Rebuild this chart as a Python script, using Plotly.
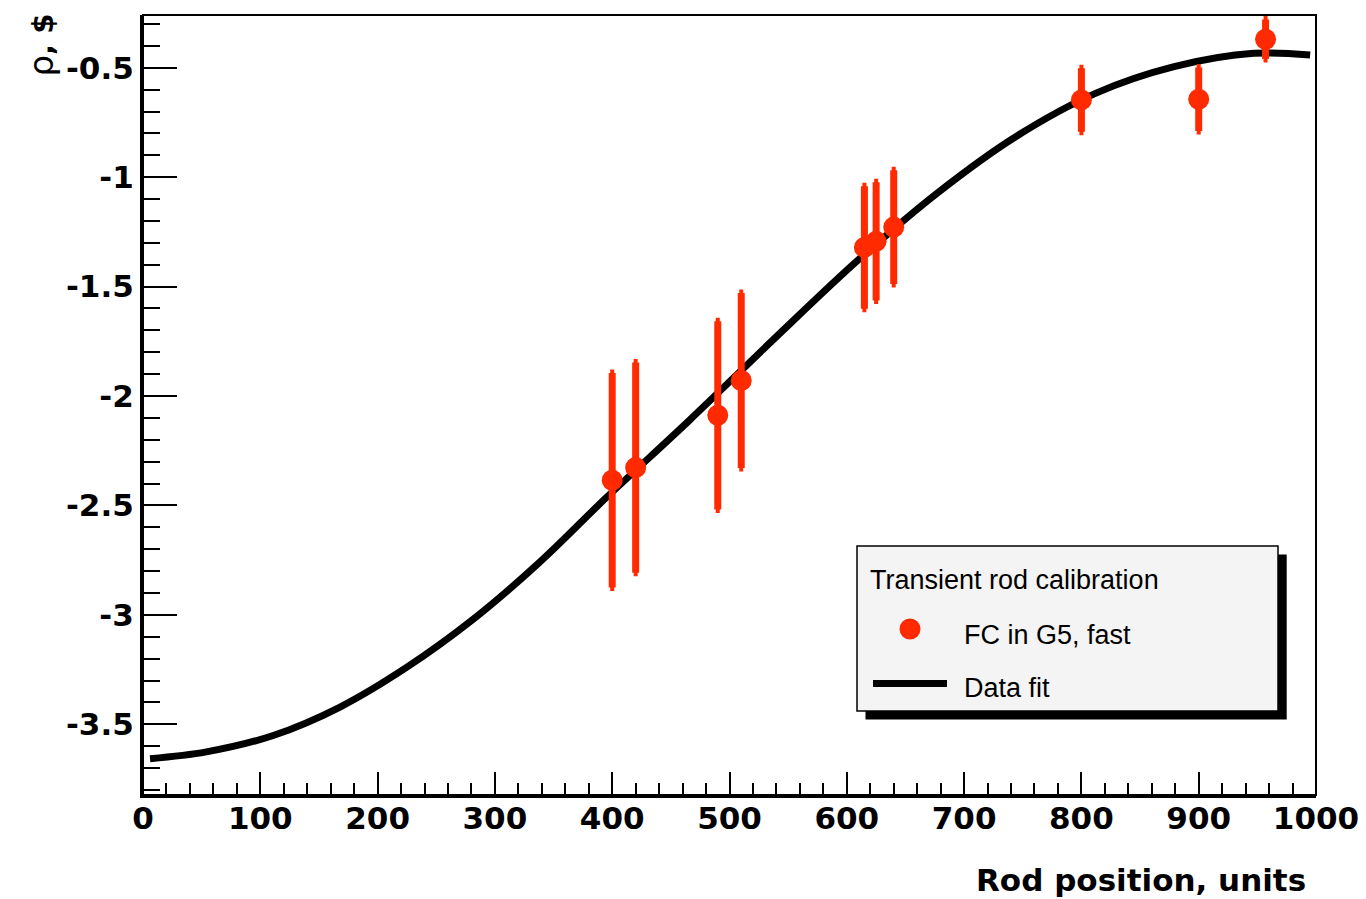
import plotly.graph_objects as go

# measured points, FC in G5 (fast)
rod_pos = [400, 420, 490, 510, 615, 625, 640, 800, 900, 957]
rho = [-2.385, -2.327, -2.088, -1.929, -1.321, -1.293, -1.228, -0.647, -0.644, -0.370]
rho_err = [0.49, 0.48, 0.43, 0.40, 0.28, 0.27, 0.26, 0.145, 0.145, 0.09]

# fit curve
fit_x = [6, 54, 111, 168, 225, 282, 338, 395, 466, 538, 610, 677, 744, 812, 879, 947, 995]
fit_y = [-3.657, -3.626, -3.551, -3.421, -3.239, -3.018, -2.760, -2.464, -2.110, -1.739,
         -1.377, -1.073, -0.815, -0.617, -0.495, -0.434, -0.442]

x_tick_vals = [0, 100, 200, 300, 400, 500, 600, 700, 800, 900, 1000]
x_tick_text = ["0", "100", "200", "300", "400", "500", "600", "700", "800", "900", "1000"]
y_tick_vals = [-3.5, -3, -2.5, -2, -1.5, -1, -0.5]
y_tick_text = ["-3.5", "-3", "-2.5", "-2", "-1.5", "-1", "-0.5"]

RED = "#ff2a00"
PAGE_W, PAGE_H = 1366, 899
BODY = 8                          # default body margin of the html page
L, R, T, B = 143, 1316, 15, 795   # plot frame, page pixels


def px(x):
    return (x - L) / (R - L)


def py(y):
    return (B - y) / (B - T)


fig = go.Figure()
fig.add_trace(go.Scatter(x=fit_x, y=fit_y, mode="lines", name="Data fit",
                         line=dict(color="black", width=7, shape="spline")))
fig.add_trace(go.Scatter(x=rod_pos, y=rho, mode="markers", name="FC in G5, fast",
                         marker=dict(color=RED, size=21),
                         error_y=dict(type="data", array=rho_err, color=RED,
                                      thickness=7, width=2)))

bold = dict(family="DejaVu Sans", size=31, color="black", weight="bold")
fig.update_xaxes(range=[0, 1000], tickmode="array", tickvals=x_tick_vals, ticktext=x_tick_text,
                 ticks="inside", ticklen=23, tickwidth=2, tickcolor="black", ticklabelstandoff=-6,
                 showline=True, linewidth=3, linecolor="black", showgrid=False, zeroline=False,
                 tickfont=bold,
                 minor=dict(tickmode="linear", tick0=0, dtick=20, ticks="inside",
                            ticklen=12, tickwidth=2, tickcolor="black", showgrid=False))
fig.update_yaxes(range=[-3.823, -0.259], tickmode="array", tickvals=y_tick_vals, ticktext=y_tick_text,
                 ticks="inside", ticklen=34, tickwidth=2, tickcolor="black",
                 showline=True, linewidth=3, linecolor="black", showgrid=False, zeroline=False,
                 tickfont=bold,
                 minor=dict(tickmode="linear", tick0=0, dtick=0.1, ticks="inside",
                            ticklen=17, tickwidth=2, tickcolor="black", showgrid=False))

shapes = [
    # frame
    dict(type="rect", xref="paper", yref="paper", x0=0, x1=1, y0=0, y1=1,
         line=dict(color="black", width=2)),
    # legend shadow + box
    dict(type="rect", xref="paper", yref="paper", x0=px(865.5), x1=px(1286.7),
         y0=py(719.5), y1=py(554.5), fillcolor="black", line=dict(width=0)),
    dict(type="rect", xref="paper", yref="paper", x0=px(857), x1=px(1278),
         y0=py(711), y1=py(546), fillcolor="#f4f4f4", line=dict(color="black", width=1.5)),
    dict(type="circle", xref="paper", yref="paper", x0=px(899.5), x1=px(920.5),
         y0=py(639.5), y1=py(618.5), fillcolor=RED, line=dict(width=0)),
    dict(type="line", xref="paper", yref="paper", x0=px(873), x1=px(947),
         y0=py(683.5), y1=py(683.5), line=dict(color="black", width=7)),
]

leg_font = dict(family="Liberation Sans", size=27, color="black")
annotations = [
    dict(text="Transient rod calibration", x=px(868), y=py(580), xref="paper", yref="paper",
         xanchor="left", yanchor="middle", showarrow=False, font=leg_font),
    dict(text="FC in G5, fast", x=px(962), y=py(634.5), xref="paper", yref="paper",
         xanchor="left", yanchor="middle", showarrow=False, font=leg_font),
    dict(text="Data fit", x=px(962), y=py(687.5), xref="paper", yref="paper",
         xanchor="left", yanchor="middle", showarrow=False, font=leg_font),
    dict(text="Rod position, units", x=px(1308), y=py(880), xref="paper", yref="paper",
         xanchor="right", yanchor="middle", showarrow=False, font=bold),
    dict(text='<span style="font-size:34px">ρ</span><b>, $</b>', x=px(40), y=py(12),
         xref="paper", yref="paper", xanchor="center", yanchor="top", textangle=-90,
         showarrow=False, font=dict(family="DejaVu Sans", size=29, color="black")),
]

fig.update_layout(width=PAGE_W - BODY, height=PAGE_H - BODY, showlegend=False,
                  margin=dict(l=L - BODY, r=PAGE_W - R, t=T - BODY, b=PAGE_H - B),
                  paper_bgcolor="white", plot_bgcolor="white",
                  shapes=shapes, annotations=annotations)

fig.write_html("out.html")
